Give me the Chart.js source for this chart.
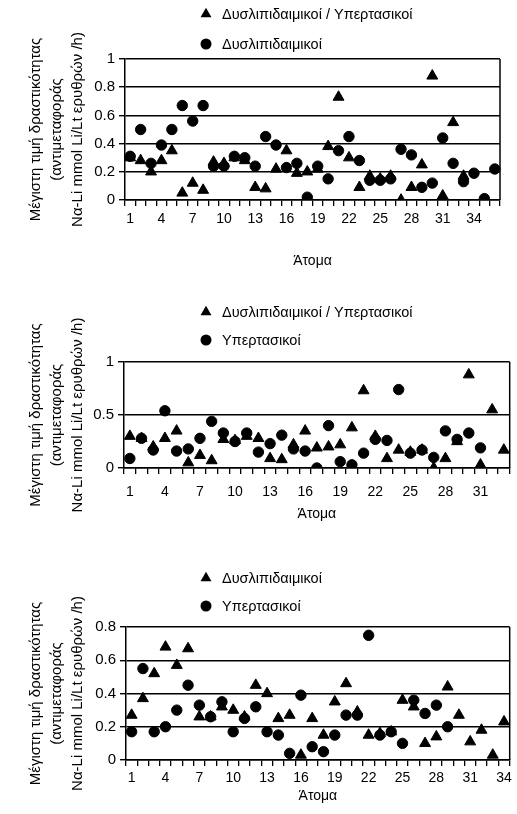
<!DOCTYPE html>
<html lang="el">
<head>
<meta charset="UTF-8">
<title>Na-Li</title>
<script src="https://cdn.jsdelivr.net/npm/chart.js@4.4.0/dist/chart.umd.min.js"></script>
<style>
  body { margin: 0; background: #fff; }
  canvas { position: absolute; left: 0; }
</style>
</head>
<body>
<canvas id="c1" width="517" height="275" style="top:0"></canvas>
<canvas id="c2" width="517" height="240" style="top:290px"></canvas>
<canvas id="c3" width="517" height="259" style="top:555px"></canvas>
<script>
// subject numbers on the x axis
var people = ['1','2','3','4','5','6','7','8','9','10','11','12','13','14','15','16','17','18',
              '19','20','21','22','23','24','25','26','27','28','29','30','31','32','33','34','35','36'];

// Δυσλιπιδαιμικοί / Υπερτασικοί (triangles, panels 1 and 2)
var dysHyp = [0.30,0.28,0.20,0.28,0.35,0.05,0.12,0.07,0.27,0.26,0.30,0.28,0.09,0.08,0.22,0.35,0.19,
              0.20,0.22,0.38,0.73,0.30,0.09,0.17,0.15,0.17,0.00,0.09,0.25,0.88,0.03,0.55,0.17];
// Δυσλιπιδαιμικοί (circles, panel 1)
var dys1 = [0.31,0.50,0.26,0.39,0.50,0.67,0.56,0.67,0.24,0.24,0.31,0.30,0.24,0.45,0.39,0.23,0.26,0.02,
            0.24,0.15,0.35,0.45,0.28,0.14,0.14,0.15,0.36,0.32,0.09,0.12,0.44,0.26,0.13,0.19,0.01,0.22];
// Υπερτασικοί (circles, panel 2)
var hyp2 = [0.09,0.28,0.17,0.54,0.16,0.18,0.28,0.44,0.33,0.25,0.33,0.15,0.23,0.31,0.18,0.16,0.00,
            0.40,0.06,0.03,0.14,0.27,0.26,0.74,0.14,0.17,0.10,0.35,0.27,0.33,0.19];
// Δυσλιπιδαιμικοί (triangles, panel 3)
var dys3 = [0.27,0.37,0.52,0.68,0.57,0.67,0.26,0.26,0.32,0.30,0.26,0.45,0.40,0.25,0.27,0.03,0.25,
            0.15,0.35,0.46,0.29,0.15,0.16,0.17,0.36,0.32,0.10,0.14,0.44,0.27,0.11,0.18,0.03,0.23];
// Υπερτασικοί (circles, panel 3)
var hyp3 = [0.17,0.55,0.17,0.20,0.30,0.45,0.33,0.26,0.35,0.17,0.25,0.32,0.17,0.15,0.04,0.39,0.08,
            0.05,0.15,0.27,0.27,0.75,0.15,0.17,0.10,0.36,0.28,0.33,0.20];

var yTitle = ['Μέγιστη τιμή δραστικότητας', '(αντιμεταφοράς', 'Να-Li mmol Li/Lt ερυθρών /h)'];
var xTitle = 'Άτομα';
var FONT = "'Liberation Sans', Arial, sans-serif";

Chart.defaults.font.family = FONT;
Chart.defaults.color = '#000';
Chart.defaults.animation = false;

function drawMark(ctx, style, x, y) {
    ctx.beginPath();
    if (style === 'triangle') {
        var r = 6.3;
        ctx.moveTo(x, y - r);
        ctx.lineTo(x + r * 0.866, y + r / 2);
        ctx.lineTo(x - r * 0.866, y + r / 2);
        ctx.closePath();
    } else {
        ctx.arc(x, y, 5.5, 0, Math.PI * 2);
    }
    ctx.fill();
}

// legend stacked above the plot, one entry per line
var keyLegend = {
    id: 'keyLegend',
    afterDraw: function (chart, args, opts) {
        var ctx = chart.ctx;
        ctx.save();
        ctx.fillStyle = '#000';
        ctx.font = opts.size + 'px ' + FONT;
        ctx.textBaseline = 'middle';
        chart.data.datasets.forEach(function (ds, i) {
            drawMark(ctx, ds.pointStyle, opts.x, opts.ys[i]);
            ctx.fillText(ds.label, opts.x + 16, opts.ys[i] + 1);
        });
        ctx.restore();
    }
};

// right edge of the plot box
var frame = {
    id: 'frame',
    afterDraw: function (chart) {
        var a = chart.chartArea, ctx = chart.ctx;
        ctx.save();
        ctx.strokeStyle = '#000';
        ctx.lineWidth = 1.5;
        ctx.beginPath();
        ctx.moveTo(a.right, a.top);
        ctx.lineTo(a.right, a.bottom);
        ctx.stroke();
        ctx.restore();
    }
};

function makePanel(id, p) {
    var dot = { showLine: false, backgroundColor: '#000', borderColor: '#000', pointBorderWidth: 1 };
    new Chart(document.getElementById(id), {
        type: 'line',
        data: {
            labels: p.labels,
            datasets: [
                Object.assign({ label: p.triLabel, data: p.tri, pointStyle: 'triangle', pointRadius: 6.3, order: 1 }, dot),
                Object.assign({ label: p.dotLabel, data: p.dot, pointStyle: 'circle', pointRadius: 5.2, order: 0 }, dot)
            ]
        },
        options: {
            responsive: false,
            layout: { padding: { left: 0, right: p.padR, top: p.padT, bottom: p.padB } },
            plugins: {
                legend: { display: false },
                tooltip: { enabled: false },
                keyLegend: { x: 206, ys: p.keyYs, size: 14.5 }
            },
            scales: {
                x: {
                    type: 'category',
                    offset: true,
                    grid: { offset: true, drawOnChartArea: false, tickLength: 6, color: '#000', lineWidth: 1.3 },
                    border: { color: '#000', width: 1.5 },
                    ticks: {
                        autoSkip: false, maxRotation: 0, padding: p.xPad, font: { size: 14 },
                        callback: function (v, i) { return i % 3 === 0 ? this.getLabelForValue(v) : ''; }
                    },
                    title: { display: true, text: xTitle, font: { size: 14 }, padding: 0 },
                    afterFit: function (s) { s.height = p.xH; s.paddingLeft = 0; s.paddingRight = 0; }
                },
                y: {
                    min: 0, max: p.yMax,
                    ticks: {
                        stepSize: p.yStep, padding: 4, font: { size: 15 },
                        callback: function (v) { return String(Math.round(v * 10) / 10); }
                    },
                    grid: { color: '#000', tickLength: 6, lineWidth: 1.4 },
                    border: { color: '#000', width: 1.5 },
                    title: { display: true, text: yTitle, font: { size: 15, lineHeight: 1.4 }, padding: { top: 25, bottom: 0 } },
                    afterFit: function (s) { s.width = p.yW; s.paddingTop = 0; s.paddingBottom = 0; }
                }
            }
        },
        plugins: [keyLegend, frame]
    });
}

makePanel('c1', {
    labels: people.slice(0, 36), tri: dysHyp, dot: dys1,
    triLabel: 'Δυσλιπιδαιμικοί / Υπερτασικοί', dotLabel: 'Δυσλιπιδαιμικοί',
    yMax: 1, yStep: 0.2, padT: 59, padB: 5, padR: 17, xH: 70, xPad: 5, yW: 125, keyYs: [14, 44]
});
makePanel('c2', {
    labels: people.slice(0, 33), tri: dysHyp, dot: hyp2,
    triLabel: 'Δυσλιπιδαιμικοί / Υπερτασικοί', dotLabel: 'Υπερτασικοί',
    yMax: 1, yStep: 0.5, padT: 72, padB: 7, padR: 6, xH: 55, xPad: 10, yW: 124, keyYs: [22, 50]
});
makePanel('c3', {
    labels: people.slice(0, 34), tri: dys3, dot: hyp3,
    triLabel: 'Δυσλιπιδαιμικοί', dotLabel: 'Υπερτασικοί',
    yMax: 0.8, yStep: 0.2, padT: 72, padB: 9, padR: 1, xH: 45, xPad: 4, yW: 126, keyYs: [23, 51]
});
</script>
</body>
</html>
